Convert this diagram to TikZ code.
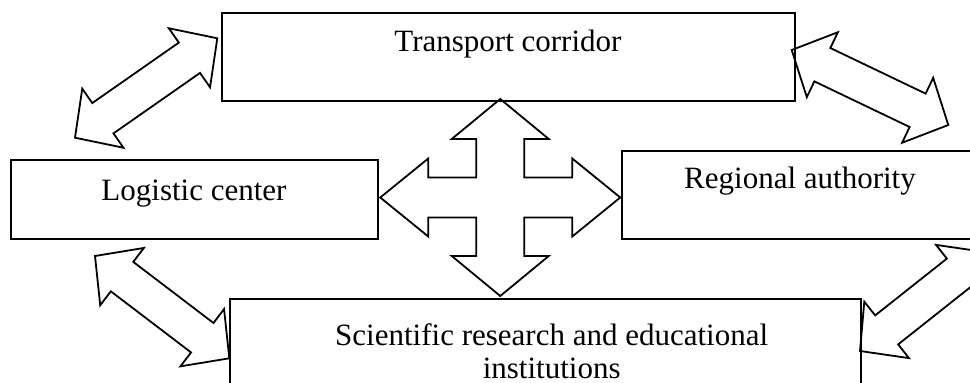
\documentclass[tikz,border=0pt]{standalone}
\usepackage{fontspec}
\setmainfont{Liberation Serif}
\usetikzlibrary{calc}
\tikzset{
  box/.style={draw, line width=2pt, inner sep=0pt},
  lbl/.style={anchor=base, inner sep=0pt, font=\fontsize{31}{36}\selectfont},
  blk/.style={draw, line width=1.8pt, line join=miter},
}
\newcommand{\blockarrow}[3]{%
  \path ($(#2)!34pt!(#3)$) coordinate (#1a) ($(#3)!34pt!(#2)$) coordinate (#1b);
  \draw[blk] (#2) -- ($(#1a)!36pt!90:(#3)$) -- ($(#1a)!18.5pt!90:(#3)$)
    -- ($(#1b)!18.5pt!-90:(#2)$) -- ($(#1b)!36pt!-90:(#2)$) -- (#3)
    -- ($(#1b)!36pt!90:(#2)$) -- ($(#1b)!18.5pt!90:(#2)$)
    -- ($(#1a)!18.5pt!-90:(#3)$) -- ($(#1a)!36pt!-90:(#3)$) -- cycle;
}
\begin{document}
\begin{tikzpicture}[x=1pt,y=-1pt]
\useasboundingbox (0,0) rectangle (970,383);
\clip (0,0) rectangle (970,383);
% boxes
\node[box, minimum width=573.3pt, minimum height=88.3pt] (tc) at (508.35,56.85) {};
\node[box, minimum width=367pt, minimum height=79.3pt] (lc) at (194.2,199.65) {};
\node[box, minimum width=378.3pt, minimum height=88.6pt] (ra) at (810.85,195) {};
\node[box, minimum width=630.6pt, minimum height=121pt] (sr) at (545.7,359.5) {};
% labels
\node[lbl] (tct) at (508,51.7) {Transport corridor};
\node[lbl] (lct) at (194,200.7) {Logistic center};
\node[lbl] (rat) at (800,188.3) {Regional authority};
\node[lbl] (srt1) at (551.7,345) {Scientific research and educational};
\node[lbl] (srt2) at (551.7,378) {institutions};
% diagonal double arrows
\coordinate (tlA) at (217.3,38.3); \coordinate (tlB) at (75,137.7);
\coordinate (trA) at (791.7,50);   \coordinate (trB) at (948.3,125);
\coordinate (blA) at (95,256);     \coordinate (blB) at (229.3,358.3);
\coordinate (brA) at (860,351);    \coordinate (brB) at (985,252);
\blockarrow{tl}{tlA}{tlB}
\blockarrow{tr}{trA}{trB}
\blockarrow{bl}{blA}{blB}
\blockarrow{br}{brA}{brB}
% central four-way arrow
\coordinate (X) at (500.25,197.5);
\draw[blk, shift={(X)}] (0,-98.5) -- (48.5,-58.5) -- (24,-58.5) -- (24,-20) -- (72,-20) -- (72,-39)
  -- (120,0) -- (72,39) -- (72,20) -- (24,20) -- (24,58.5) -- (48.5,58.5) -- (0,98.5)
  -- (-48.5,58.5) -- (-24,58.5) -- (-24,20) -- (-72,20) -- (-72,39) -- (-120,0)
  -- (-72,-39) -- (-72,-20) -- (-24,-20) -- (-24,-58.5) -- (-48.5,-58.5) -- cycle;
\end{tikzpicture}
\end{document}
